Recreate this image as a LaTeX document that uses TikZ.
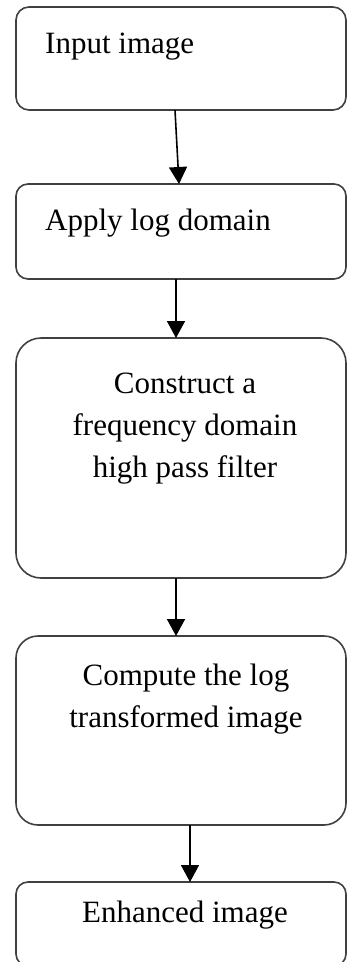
\documentclass[tikz,border=0pt]{standalone}
\usepackage{fontspec}
\setmainfont{Liberation Serif}
\usetikzlibrary{positioning, arrows.meta, calc}
\definecolor{boxline}{HTML}{404040}
\tikzset{
  stepbox/.style = {rectangle, rounded corners=#1, draw=boxline, line width=1.6pt,
                    minimum width=330pt, inner sep=0pt, outer sep=0pt},
  stepbox/.default = 12pt,
  txt/.style     = {font=\fontsize{31}{42}\selectfont, inner sep=0pt},
  flow/.style    = {line width=1.6pt, -{Triangle[length=17pt, width=18pt]}, draw=black},
}

\begin{document}
\begin{tikzpicture}[x=1pt, y=-1pt]

\useasboundingbox (0,0) rectangle (347,962);
\clip (0,0) rectangle (347,962);

% Boxes, top to bottom
\node (b1) [stepbox=13pt, minimum height=103pt] at (181,58.5) {};
\node (b2) [stepbox=12pt, minimum height=95pt,  below=74pt of b1] {};
\node (b3) [stepbox=25pt, minimum height=240pt, below=59pt of b2] {};
\node (b4) [stepbox=22pt, minimum height=189pt, below=58pt of b3] {};
\node (b5) [stepbox=12pt, minimum height=84pt,  below=57pt of b4] {};

% Texts
\node (t1) [txt, anchor=base west] at ($(b1.north west)+(29,46)$) {Input image};
\node (t2) [txt, anchor=base west] at ($(b2.north west)+(29,46)$) {Apply log domain};
\node (t3) [txt, anchor=north, align=center] at ($(b3.north)+(4,34.5)$)
  {Construct a\\frequency domain\\high pass filter};
\node (t4) [txt, anchor=north, align=center] at ($(b4.north)+(5,28)$)
  {Compute the log\\transformed image};
\node (t5) [txt, anchor=base] at ($(b5.north)+(4,40)$) {Enhanced image};

% Arrows
\draw [flow] ([xshift=-6pt]b1.south) -- ([xshift=-2pt]b2.north);
\draw [flow] ([xshift=-5pt]b2.south) -- ([xshift=-5pt]b3.north);
\draw [flow] ([xshift=-5pt]b3.south) -- ([xshift=-5pt]b4.north);
\draw [flow] ([xshift=9pt]b4.south)  -- ([xshift=9pt]b5.north);

\end{tikzpicture}
\end{document}
